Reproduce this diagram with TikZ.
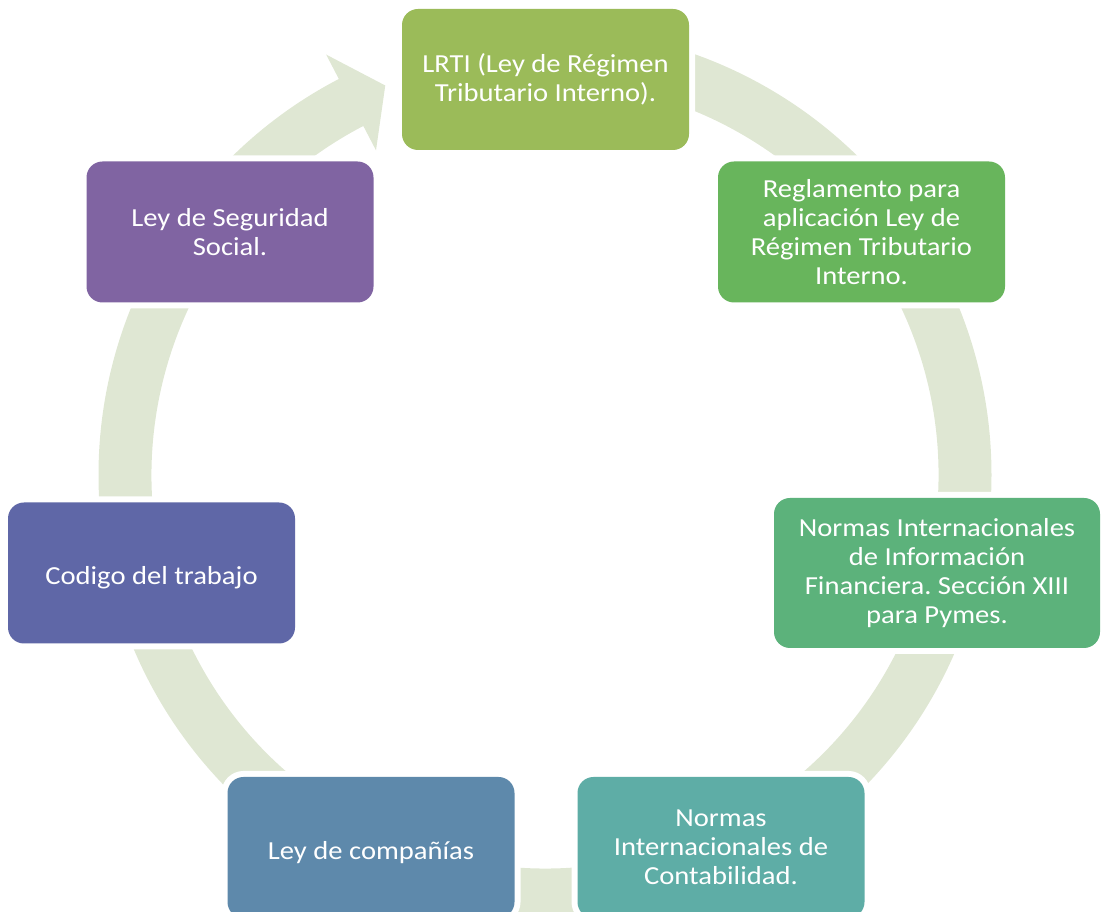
\documentclass[tikz,border=0pt]{standalone}
\usepackage{fontspec}
\setmainfont{Carlito}[FakeStretch=1.1]
\frenchspacing
\definecolor{ringc}{HTML}{DFE7D3}
\definecolor{cA}{HTML}{9BBB59}
\definecolor{cB}{HTML}{68B55C}
\definecolor{cC}{HTML}{5CB27B}
\definecolor{cD}{HTML}{5EADA6}
\definecolor{cE}{HTML}{5E89AB}
\definecolor{cF}{HTML}{5F67A7}
\definecolor{cG}{HTML}{8064A2}
\begin{document}
\begin{tikzpicture}[x=1pt,y=1pt]
\tikzset{
  box/.style={rectangle, rounded corners=16pt, fill=#1, text=white, align=center,
    font=\fontsize{26}{29}\selectfont, minimum width=287pt, minimum height=141pt,
    inner sep=0pt, preaction={draw=white, line width=12pt}},
  oneline/.style={text height=24pt, text depth=0pt},
  ring/.style={fill=ringc}
}
\useasboundingbox (0,0) rectangle (1101,912);
\clip (0,0) rectangle (1101,912);
% circular arrow
\begin{scope}[shift={(545,437)}]
\fill[ring] (90:446.5) arc[start angle=90, end angle=-242.5, radius=446.5]
  -- (-242.5:474) -- (-247.7:421) -- (-242.5:366) -- (-242.5:393.5)
  arc[start angle=-242.5, end angle=90, radius=393.5] -- cycle;
\end{scope}
% boxes
\node[box=cA] (lrti) at (545.5,832.5) {LRTI (Ley de Régimen\\Tributario Interno).};
\node[box=cB] (regl) at (861.5,680) {Reglamento para\\aplicación Ley de\\Régimen Tributario\\Interno.};
\node[box=cC, minimum width=326pt, minimum height=150pt] (niif) at (937,339) {Normas Internacionales\\de Información\\Financiera. Sección XIII\\para Pymes.};
\node[box=cD] (nic) at (721,64.5) {Normas\\Internacionales de\\Contabilidad.};
\node[box=cE, oneline] (comp) at (371,64.5) {Ley de compañías};
\node[box=cF, oneline] (cod) at (151.5,339) {Codigo del trabajo};
\node[box=cG] (seg) at (230,680) {Ley de Seguridad\\Social.};
\end{tikzpicture}
\end{document}
